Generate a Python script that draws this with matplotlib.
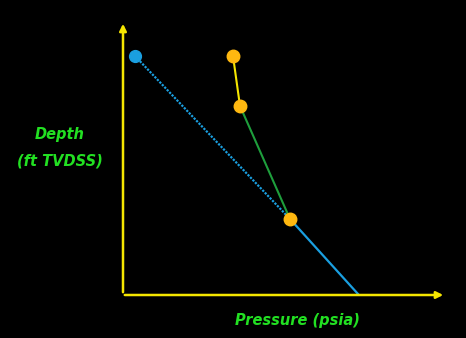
import matplotlib
matplotlib.use("Agg")
import matplotlib.pyplot as plt

# pressure / depth-height in chart units (origin at the axis corner)
blue_pressure = [12, 167, 235]
blue_height = [239, 76, 1]
orange_pressure = [110, 117, 167]
orange_height = [239, 189, 76]

yellow_c = '#f5e600'
blue_c = '#1a9fe0'
orange_c = '#ffb810'
green_c = '#1e9e3c'
label_c = '#22e022'

fig = plt.figure(figsize=(4.66, 3.38), dpi=100, facecolor='black')
ax = fig.add_axes([0, 0, 1, 1])
ax.set_facecolor('black')
ax.set_xlim(-123, 343)
ax.set_ylim(-43, 295)
ax.axis('off')

# axes with arrow heads
ax.annotate('', xy=(0, 274), xytext=(0, 0),
            arrowprops=dict(arrowstyle='-|>', color=yellow_c, lw=1.8, mutation_scale=10))
ax.annotate('', xy=(323, 0), xytext=(-1, 0),
            arrowprops=dict(arrowstyle='-|>', color=yellow_c, lw=1.8, mutation_scale=10))

# blue gradient line: dotted above the intersection, solid below
ax.plot(blue_pressure[:2], blue_height[:2], color=blue_c, lw=1.6, ls=(0, (1.0, 0.6)))
ax.plot(blue_pressure[1:], blue_height[1:], color=blue_c, lw=1.6)
ax.plot(blue_pressure[0], blue_height[0], 'o', color=blue_c, ms=8.5)

# orange points with yellow and green segments
ax.plot(orange_pressure[:2], orange_height[:2], color=yellow_c, lw=1.5)
ax.plot(orange_pressure[1:], orange_height[1:], color=green_c, lw=1.5)
ax.plot(orange_pressure, orange_height, 'o', color=orange_c, ms=9, zorder=5)

font = dict(color=label_c, fontsize=10.5, style='italic', weight='bold', family='DejaVu Sans')
ax.text(-63, 160, 'Depth', ha='center', va='center', **font)
ax.text(-63, 134, '(ft TVDSS)', ha='center', va='center', **font)
ax.text(174, -25, 'Pressure (psia)', ha='center', va='center', **font)

fig.savefig('out.png', dpi=100, facecolor='black')
